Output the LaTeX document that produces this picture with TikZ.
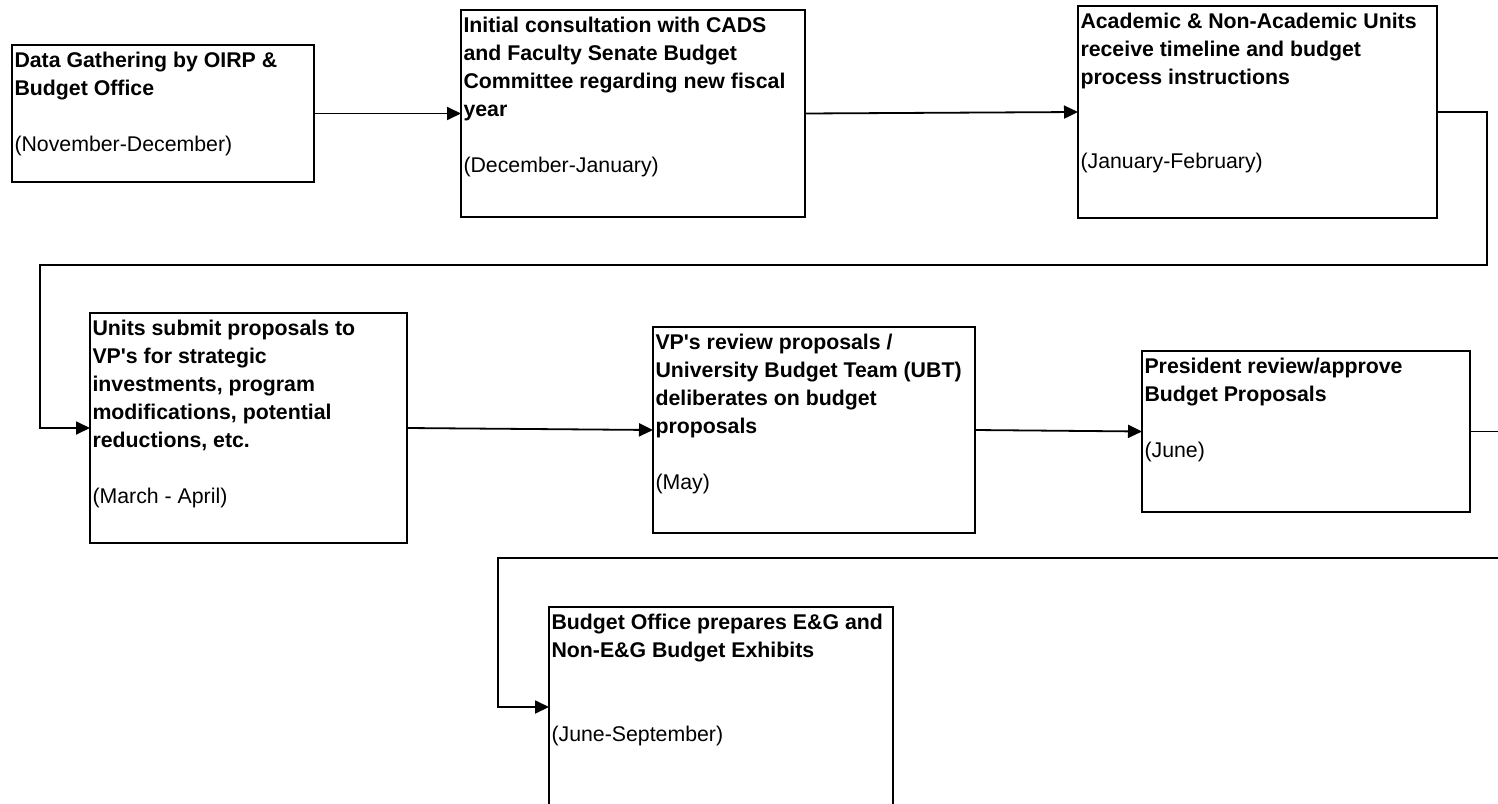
\documentclass[tikz,border=0pt]{standalone}
\usepackage{fontspec}
\setmainfont{Liberation Sans}
\usetikzlibrary{arrows.meta}

\newcommand{\stagetext}[3]{\begin{minipage}[t][#2pt][t]{#1pt}\raggedright\rule{0pt}{22pt}#3\end{minipage}}

\begin{document}
\begin{tikzpicture}[x=1pt, y=-1pt,
    stage/.style={shape=rectangle, draw=black, line width=2pt, anchor=north west,
        inner xsep=2.5pt, inner ysep=0pt, outer sep=0pt,
        font=\fontsize{21.3}{28}\selectfont},
    flow/.style={-{Triangle[length=14pt,width=13pt]}, line width=1.8pt}]
    \useasboundingbox (0,0) rectangle (1498,803);
    \fill[white] (0,0) rectangle (1498,803);
    \clip (0,0) rectangle (1498,803);

    \node[stage] (gather) at (12,45) {\stagetext{297}{137}{\textbf{Data Gathering by OIRP \&\\Budget Office}\\~\\(November-December)}};
    \node[stage] (consult) at (461,10) {\stagetext{339}{207}{\textbf{Initial consultation with CADS\\and Faculty Senate Budget\\Committee regarding new fiscal\\year}\\~\\(December-January)}};
    \node[stage] (receive) at (1078,6) {\stagetext{354}{212}{\textbf{Academic \& Non-Academic Units\\receive timeline and budget\\process instructions}\\~\\~\\(January-February)}};
    \node[stage] (submit) at (90,313) {\stagetext{312}{230}{\textbf{Units submit proposals to\\VP\textquotesingle s for strategic\\investments, program\\modifications, potential\\reductions, etc.}\\~\\(March - April)}};
    \node[stage] (review) at (653,327) {\stagetext{317}{206}{\textbf{VP\textquotesingle s review proposals /\\University Budget Team (UBT)\\deliberates on budget\\proposals}\\~\\(May)}};
    \node[stage] (approve) at (1142,351) {\stagetext{323}{161}{\textbf{President review/approve\\Budget Proposals}\\~\\(June)}};
    \node[stage] (exhibit) at (549,607) {\stagetext{339}{200}{\textbf{Budget Office prepares E\&G and\\Non-E\&G Budget Exhibits}\\~\\~\\(June-September)}};

    \path [flow](gather.east) edge (consult.west);
    \path [flow](consult.east) edge (receive.west);
    \draw [flow](receive.east) -- ++(50,0) |- (40,265) |- (submit.west);
    \path [flow](submit.east) edge (review.west);
    \path [flow](review.east) edge (approve.west);
    \draw [flow](approve.east) -- ++(60,0) |- (498,558) |- (exhibit.west);

\end{tikzpicture}
\end{document}
